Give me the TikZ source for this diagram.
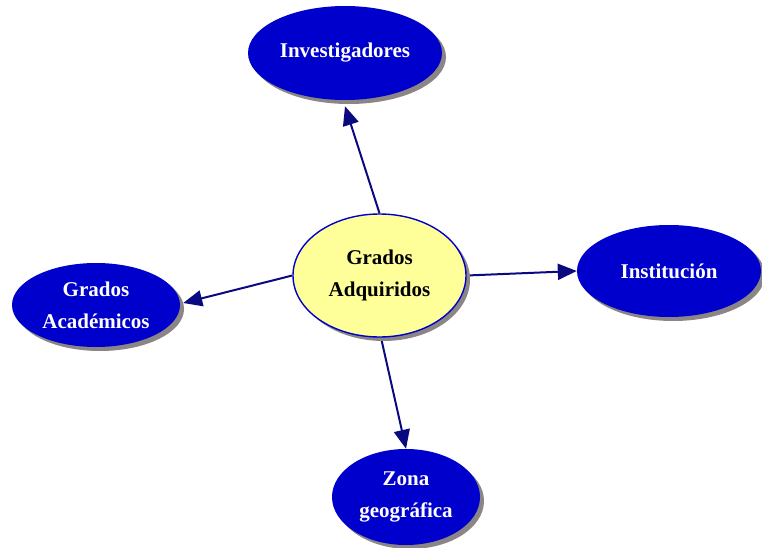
\documentclass[tikz,border=0pt]{standalone}
\usepackage{fontspec}
\setmainfont{Liberation Serif}
\usetikzlibrary{arrows.meta,shapes.geometric,shadows}
\definecolor{conceptblue}{HTML}{0000CC}
\definecolor{linknavy}{HTML}{0A0A80}
\definecolor{rootfill}{HTML}{FFFF99}
\definecolor{shadowgrey}{HTML}{8C8585}
\pgfdeclarelayer{background}
\pgfsetlayers{background,main}
\tikzset{
  concept/.style={ellipse, inner sep=0pt, align=center,
    font=\fontsize{21}{32}\selectfont\bfseries,
    drop shadow={shadow xshift=4pt, shadow yshift=-4pt, fill=shadowgrey, opacity=1}},
  leaf/.style={concept, fill=conceptblue, text=white},
  root/.style={concept, fill=rootfill, draw=conceptblue, line width=1.4pt, text=black},
  link/.style={draw=linknavy, line width=2pt,
    -{Triangle[length=19pt,width=16pt]}, fill=linknavy}
}
\begin{document}
\begin{tikzpicture}[x=1pt,y=-1pt]
  \useasboundingbox (0,0) rectangle (762,548);

  % concepts
  \node[root, minimum width=173pt, minimum height=123pt] (c) at (379.5,275.5) {Grados\\Adquiridos};
  \node[leaf, minimum width=194pt, minimum height=94pt] (inv) at (345,53) {Investigadores};
  \node[leaf, minimum width=184pt, minimum height=92pt] (inst) at (669,271) {Institución};
  \node[leaf, minimum width=168pt, minimum height=84pt] (acad) at (96,305) {Grados\\Académicos};
  \node[leaf, minimum width=148pt, minimum height=96pt] (zona) at (406,497) {Zona\\geográfica};

  % links, kept under the concept shadows
  \begin{pgfonlayer}{background}
    \draw[link] (c.north) -- ([yshift=-6pt]inv.south);
    \draw[link] (c.east) -- (inst.west);
    \draw[link] (c.west) -- ([shift={(3pt,2pt)}]acad.east);
    \draw[link] ([xshift=1.5pt]c.south) -- (zona.north);
  \end{pgfonlayer}
\end{tikzpicture}
\end{document}
